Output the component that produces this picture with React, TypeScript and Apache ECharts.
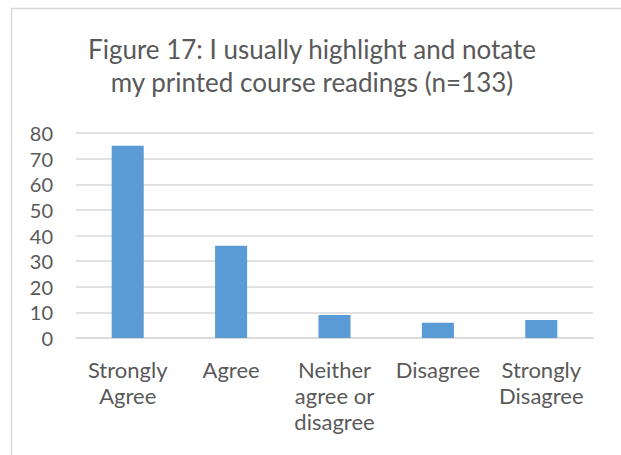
import React, { useEffect, useRef } from "react";
import * as echarts from "echarts";

const titleLines = [
  "Figure 17: I usually highlight and notate",
  "my printed course readings (n=133)",
];
const categories = [
  "Strongly\nAgree",
  "Agree",
  "Neither\nagree or\ndisagree",
  "Disagree",
  "Strongly\nDisagree",
];
const values = [75, 36, 9, 6, 7];
const yTicks = { min: 0, max: 80, interval: 10 };

const FONT = "Lato, 'Open Sans', sans-serif";
const TEXT = "#595959";

export default function App() {
  const ref = useRef<HTMLDivElement>(null);
  useEffect(() => {
    if (!ref.current) return;
    const chart = echarts.init(ref.current, undefined, { renderer: "svg" });
    chart.setOption({
      animation: false,
      backgroundColor: "#ffffff",
      textStyle: { fontFamily: FONT },
      title: {
        text: titleLines.join("\n"),
        left: 307,
        top: 27,
        textAlign: "center",
        textStyle: {
          fontFamily: FONT,
          fontSize: 26,
          lineHeight: 33,
          fontWeight: "normal",
          color: TEXT,
        },
      },
      graphic: [
        {
          type: "rect",
          shape: { x: 11.5, y: 8.5, width: 700, height: 600 },
          style: { fill: "none", stroke: "#d9d9d9", lineWidth: 1.5 },
          silent: true,
          z: -1,
        },
      ],
      grid: { left: 76, right: 28, top: 133, bottom: 117, containLabel: false },
      xAxis: {
        type: "category",
        data: categories,
        axisLine: { show: true, lineStyle: { color: "#d9d9d9", width: 1.5 } },
        axisTick: { show: false },
        axisLabel: {
          interval: 0,
          color: TEXT,
          fontFamily: FONT,
          fontSize: 22,
          lineHeight: 26,
          margin: 18,
        },
      },
      yAxis: {
        type: "value",
        min: yTicks.min,
        max: yTicks.max,
        interval: yTicks.interval,
        axisLine: { show: false },
        axisTick: { show: false },
        splitLine: { lineStyle: { color: "#d9d9d9", width: 1.5 } },
        axisLabel: {
          color: TEXT,
          fontFamily: FONT,
          fontSize: 20,
          margin: 23,
        },
      },
      series: [
        {
          type: "bar",
          data: values,
          barWidth: "31%",
          itemStyle: { color: "#5b9bd5" },
        },
      ],
    });
    return () => chart.dispose();
  }, []);
  return (
    <div
      ref={ref}
      style={{ position: "fixed", left: 0, top: 0, width: 621, height: 455 }}
    />
  );
}
